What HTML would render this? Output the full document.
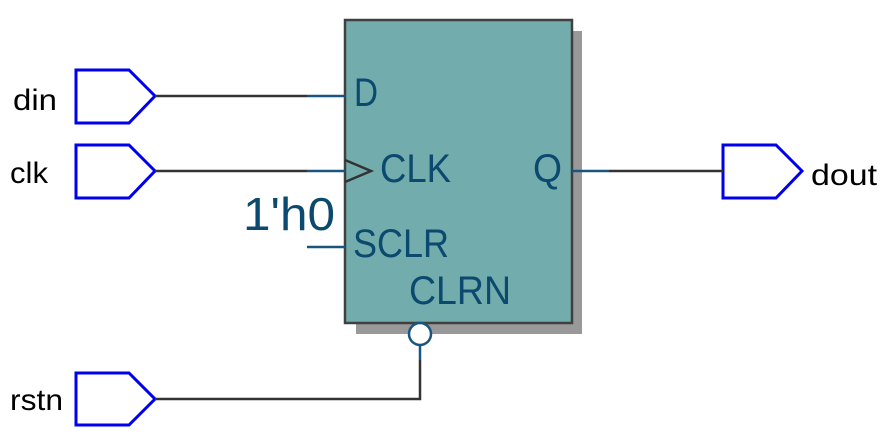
<!DOCTYPE html>
<html><head><style>body{margin:0;background:#fff}svg{display:block}</style></head><body>
<svg width="892" height="441" xmlns="http://www.w3.org/2000/svg" font-family="'Liberation Sans','DejaVu Sans',sans-serif">
<rect x="356" y="31" width="226" height="303" fill="#999"/>
<rect x="345" y="20" width="227" height="303" fill="#73acac" stroke="#404040" stroke-width="2.5"/>
<g fill="#fff" stroke="#0000ee" stroke-width="3">
<path d="M76 70H129L155 96L129 123H76Z"/>
<path d="M76 145H129L155 171L129 198H76Z"/>
<path d="M76 373H129L155 399L129 425H76Z"/>
<path d="M723 145H776L802 171L776 198H723Z"/>
</g>
<g stroke="#333" stroke-width="2.5" fill="none">
<path d="M155 96H307M155 171H307M155 399H420V360M609 171H723"/>
<path d="M345 160L371 171L345 182"/>
</g>
<g stroke="#1a5580" stroke-width="2.5" fill="none">
<path d="M307 96H345M307 171H345M307 247H345M572 171H609M420 345V360"/>
<circle cx="420" cy="334" r="11" fill="#fff"/>
</g>
<g fill="#0b4a6e" font-size="40">
<text x="354" y="106" textLength="24" lengthAdjust="spacingAndGlyphs">D</text>
<text x="380" y="182" textLength="71" lengthAdjust="spacingAndGlyphs">CLK</text>
<text x="533" y="182" textLength="29" lengthAdjust="spacingAndGlyphs">Q</text>
<text x="353" y="257" textLength="96" lengthAdjust="spacingAndGlyphs">SCLR</text>
<text x="409" y="304" textLength="102" lengthAdjust="spacingAndGlyphs">CLRN</text>
<text x="243" y="230" font-size="46" textLength="92" lengthAdjust="spacingAndGlyphs">1'h0</text>
</g>
<g fill="#000" font-size="30">
<text x="13" y="110" textLength="44" lengthAdjust="spacingAndGlyphs">din</text>
<text x="10" y="183" textLength="38" lengthAdjust="spacingAndGlyphs">clk</text>
<text x="10" y="410" textLength="53" lengthAdjust="spacingAndGlyphs">rstn</text>
<text x="811" y="185" textLength="66" lengthAdjust="spacingAndGlyphs">dout</text>
</g>
</svg>
</body></html>
